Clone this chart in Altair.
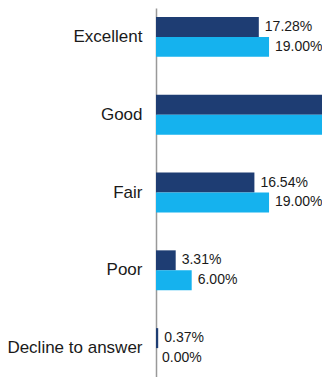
import altair as alt
import pandas as pd

categories = ["Excellent", "Good", "Fair", "Poor", "Decline to answer"]
series = ["A", "B"]
values_a = [17.28, 62.50, 16.54, 3.31, 0.37]
values_b = [19.00, 56.00, 19.00, 6.00, 0.00]

X_MAX = 27.9

rows = []
for c, a, b in zip(categories, values_a, values_b):
    rows.append({"cat": c, "series": "A", "value": a, "label": f"{a:.2f}%"})
    rows.append({"cat": c, "series": "B", "value": b, "label": f"{b:.2f}%"})
df = pd.DataFrame(rows)

xscale = alt.Scale(domain=[0, X_MAX], nice=False, zero=True)
yscale = alt.Scale(domain=categories, paddingInner=0.487, paddingOuter=0.115)
color = alt.Color("series:N", scale=alt.Scale(domain=series, range=["#1E3D73", "#15B2EE"]), legend=None)

base = alt.Chart(df).encode(
    y=alt.Y("cat:N", scale=yscale, sort=categories,
            axis=alt.Axis(title=None, ticks=False, domain=True, domainColor="#999999",
                          domainWidth=1.5, labelFontSize=17, labelColor="#1a1a1a",
                          labelFont="Liberation Sans", labelPadding=14, labelLimit=200)),
    yOffset=alt.YOffset("series:N", sort=series, scale=alt.Scale(paddingInner=0, paddingOuter=0)),
)

bars = base.mark_bar(clip=True).encode(
    x=alt.X("value:Q", scale=xscale, axis=None),
    color=color,
)

labels = base.mark_text(align="left", baseline="middle", dx=6,
                        fontSize=14, font="Liberation Sans", color="#1a1a1a").transform_filter(
    alt.datum.value <= X_MAX
).encode(
    x=alt.X("value:Q", scale=xscale, axis=None),
    text="label:N",
)

chart = (bars + labels).properties(
    width=166, height=369,
    autosize=alt.AutoSizeParams(type="none"),
    padding={"left": 148, "top": 0, "right": 0, "bottom": 0},
).configure_view(stroke=None)

chart.save("out.html", embed_options={"renderer": "svg", "actions": False})
